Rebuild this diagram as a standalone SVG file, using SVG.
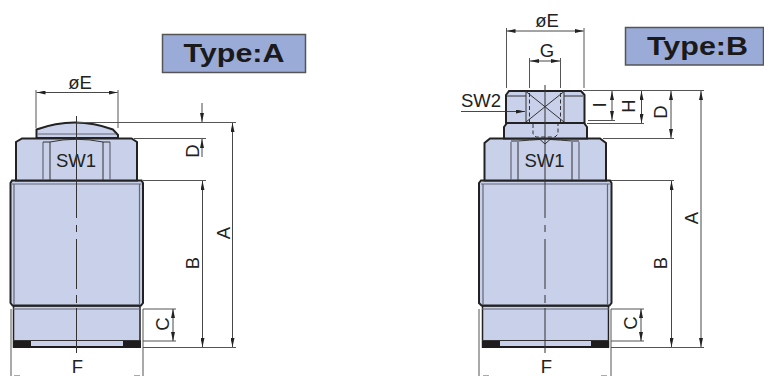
<svg xmlns="http://www.w3.org/2000/svg" width="764" height="376" viewBox="0 0 764 376">
<defs>
<marker id="a" markerWidth="9" markerHeight="4" refX="9" refY="2" orient="auto" markerUnits="userSpaceOnUse"><path d="M0 0L9 2L0 4Z" fill="#222"/></marker>
</defs>
<style>
text{font-family:"Liberation Sans",Arial,sans-serif;font-size:18.500px;fill:#222;text-anchor:middle}
.type{font-weight:bold;font-size:26.500px;fill:#1a1a1a}
.box{fill:#9babd8;stroke:#555;stroke-width:1.500}
.body{fill:#c8d1e9;stroke:#222;stroke-width:2;stroke-linejoin:miter}
.thin{fill:none;stroke:#333;stroke-width:1}
.gray{fill:none;stroke:#667;stroke-width:1.200}
.ext{fill:none;stroke:#555;stroke-width:1}
.arr{fill:none;stroke:#333;stroke-width:.9;marker-end:url(#a)}
.dash{fill:none;stroke:#333;stroke-width:1;stroke-dasharray:4 2.500}
.foot{fill:#1f1c1d}
</style>
<rect width="764" height="376" fill="#fff"/>

<g id="type-a-label"><rect class="box" x="162.500" y="34.500" width="143" height="38"/><text class="type" x="234" y="62" textLength="101" lengthAdjust="spacingAndGlyphs">Type:A</text></g>
<g id="type-b-label"><rect class="box" x="625.500" y="27.500" width="138" height="37.500"/><text class="type" x="697.500" y="55" textLength="101" lengthAdjust="spacingAndGlyphs">Type:B</text></g>

<g id="node-a">
<path d="M13.500 306V347H140V306Z" fill="#c8d1e9" stroke="#222" stroke-width="1.500"/>
<rect class="foot" x="13" y="340.500" width="18" height="7.500"/><rect class="foot" x="123" y="340.500" width="18" height="7.500"/>
<rect class="foot" x="13" y="346" width="128" height="2"/>
<line class="thin" x1="13" y1="340.500" x2="141" y2="340.500"/>
<path class="body" d="M12 180.500H141.500L143 183V303L141 305.500H12.500L10.500 303V183Z"/>
<path class="gray" d="M14 184V305M139.500 184V305M12 184H141.500M13 309H140"/>
<path class="body" d="M16 180.500V142L22 138.500H131.500L137 142V180.500Z"/>
<path class="gray" d="M43 180V142M110 180V142"/>
<path class="thin" d="M50 180V142M103 180V142M43 142H50Q76 136.500 103 142H110"/>
<path class="body" d="M36.500 138V129.500Q75 115.500 113 129.500L118 135V138Z"/>
<path class="gray" d="M38 134H116"/>
<text x="76" y="167">SW1</text>
</g>

<g id="node-b">
<path d="M482.500 306V347H608.500V306Z" fill="#c8d1e9" stroke="#222" stroke-width="1.500"/>
<rect class="foot" x="482" y="340.500" width="18" height="7.500"/><rect class="foot" x="591" y="340.500" width="18" height="7.500"/>
<rect class="foot" x="482" y="346" width="127" height="2"/>
<line class="thin" x1="482" y1="340.500" x2="609" y2="340.500"/>
<path class="body" d="M481 180.500H610L611.500 183V303L609.500 305.500H481.500L479 303V183Z"/>
<path class="gray" d="M483 184V305M607.500 184V305M481 184H610M482 309H609"/>
<path class="body" d="M484.500 180.500V143L490 138.500H600L606 143V180.500Z"/>
<path class="gray" d="M511 180V142M579 180V142"/>
<path class="thin" d="M518 180V142M572 180V142M511 141H518Q530 140 540 139.500L545 144L550 139.500Q560 140 572 141H579"/>
<path class="body" d="M504 138.500V127L507 123H584L587 127V138.500Z"/>
<path class="body" d="M506 123V95L509 91H581L584.500 95V123Z"/>
<path class="thin" d="M507 96H526M564 96H583"/>
<path class="thin" d="M526 91.500V122M564 91.500V122M526 91.500L564 122M564 91.500L526 122"/>
<path class="dash" d="M529.500 93V122M560.500 93V122M533 124V134L536 137H555L558 134V124"/>
<text x="544.500" y="167">SW1</text>
</g>

<g id="connectors">
<path class="ext" d="M36 128V90M118 128V90M76 122.500H236M134 138.500H206M143 180.500H206M143 347.500H236M143 309H176M143 341H176M11 309V376M143 309V376M14 376H20M134 376H140"/>
<line class="arr" x1="202" y1="103" x2="202" y2="122"/><line class="arr" x1="202" y1="157" x2="202" y2="139"/>
<line class="arr" x1="77" y1="92.500" x2="36.500" y2="92.500"/><line class="arr" x1="77" y1="92.500" x2="117.500" y2="92.500"/>
<line class="arr" x1="202.500" y1="260" x2="202.500" y2="181"/><line class="arr" x1="202.500" y1="260" x2="202.500" y2="347"/>
<line class="arr" x1="232.500" y1="240" x2="232.500" y2="123"/><line class="arr" x1="232.500" y1="240" x2="232.500" y2="347"/>
<line class="arr" x1="173" y1="325" x2="173" y2="309"/><line class="arr" x1="173" y1="325" x2="173" y2="341"/>
<path class="thin" d="M76.500 116V218M76.500 225V232M76.500 239V289M76.500 295V303M76.500 308V353"/>

<path class="ext" d="M506.500 88V28M584 88V28M529.500 88V58M560.500 88V58M583 90.500H704M588 120.500H615M587 123.500H644M603 138.500H674M611 180.500H674M611 347.500H704M611 309H644M611 341H644M479 309V376M611 309V376M483 376H489M601 376H607"/>
<line class="arr" x1="545" y1="31" x2="506.500" y2="31"/><line class="arr" x1="545" y1="31" x2="583.500" y2="31"/>
<line class="arr" x1="545" y1="61" x2="530" y2="61"/><line class="arr" x1="545" y1="61" x2="560" y2="61"/>
<line class="arr" x1="612" y1="106" x2="612" y2="91"/><line class="arr" x1="612" y1="106" x2="612" y2="120"/>
<line class="arr" x1="641.500" y1="106" x2="641.500" y2="91"/><line class="arr" x1="641.500" y1="106" x2="641.500" y2="123"/>
<line class="arr" x1="671" y1="115" x2="671" y2="91"/><line class="arr" x1="671" y1="115" x2="671" y2="138"/>
<line class="arr" x1="671.500" y1="260" x2="671.500" y2="181"/><line class="arr" x1="671.500" y1="260" x2="671.500" y2="347"/>
<line class="arr" x1="701" y1="240" x2="701" y2="91"/><line class="arr" x1="701" y1="240" x2="701" y2="347"/>
<line class="arr" x1="641" y1="325" x2="641" y2="309"/><line class="arr" x1="641" y1="325" x2="641" y2="341"/>
<line class="arr" x1="461" y1="111.500" x2="525" y2="111.500"/>
<path class="thin" d="M545 85V218M545 225V232M545 239V289M545 295V303M545 308V353"/>
</g>

<g id="labels">
<text x="80" y="89">øE</text>
<text x="547" y="27">øE</text>
<text x="547" y="57">G</text>
<text x="481" y="107">SW2</text>
<text x="77.500" y="373">F</text>
<text x="546.500" y="373">F</text>
<text transform="translate(199,151) rotate(-90)">D</text>
<text transform="translate(199,263) rotate(-90)">B</text>
<text transform="translate(230,233) rotate(-90)">A</text>
<text transform="translate(169,324) rotate(-90)">C</text>
<text transform="translate(606,105) rotate(-90)">I</text>
<text transform="translate(635,106) rotate(-90)">H</text>
<text transform="translate(667,112) rotate(-90)">D</text>
<text transform="translate(667,263) rotate(-90)">B</text>
<text transform="translate(698,218) rotate(-90)">A</text>
<text transform="translate(637,323) rotate(-90)">C</text>
</g>
</svg>
